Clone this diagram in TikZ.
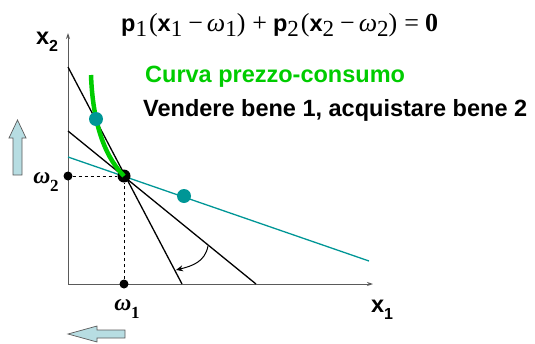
\documentclass[tikz,border=0pt]{standalone}
\usepackage{fontspec}
\setmainfont{Liberation Sans}
\newfontfamily\serifrm{Liberation Serif}
\usetikzlibrary{arrows.meta}
\definecolor{tealc}{RGB}{0,150,150}
\definecolor{greenc}{RGB}{0,204,0}
\definecolor{lightb}{RGB}{183,221,226}
\definecolor{axisc}{RGB}{90,90,90}
\newcommand\ssub[1]{\raisebox{-0.3em}{\fontsize{16}{16}\selectfont\bfseries #1}}
\newcommand\wsub[1]{\raisebox{-0.3em}{\fontsize{17}{17}\selectfont\serifrm\bfseries #1}}
\newcommand\rsub[1]{\raisebox{-0.22em}{\fontsize{23}{26}\selectfont\serifrm\mdseries #1}}
\newcommand\omg{{\serifrm\bfseries\itshape ω}}
\newcommand\eqs[1]{{\fontsize{26}{26}\selectfont\serifrm\mdseries #1}}
\begin{document}
\begin{tikzpicture}[x=1pt,y=-1pt,
  axis/.style={axisc,line width=0.9pt,-{Stealth[length=6pt,width=4pt]}},
  budget/.style={black,line width=1.3pt},
  dashln/.style={black,line width=0.8pt,dashed},
  dot/.style={circle,fill=black,inner sep=0pt,minimum size=9pt},
  bigdot/.style={circle,fill=black,inner sep=0pt,minimum size=13pt},
  tdot/.style={circle,fill=tealc,inner sep=0pt,minimum size=14pt},
  lbl/.style={font=\fontsize{23.5}{26}\selectfont\bfseries,inner sep=0pt},
  eqlbl/.style={font=\fontsize{23.5}{26}\selectfont\bfseries,inner sep=0pt},
  blockarrow/.style={fill=lightb,draw=axisc,line width=0.7pt}]
\useasboundingbox (0,0) rectangle (535,343);
% coordinates
\coordinate (O) at (68,284);
\coordinate (ytop) at (68,33);
\coordinate (xend) at (373,284);
\coordinate (A1) at (68,67);
\coordinate (B1) at (182,284);
\coordinate (A2) at (68,131);
\coordinate (B2) at (256,284);
\coordinate (T1) at (68,157);
\coordinate (T2) at (369,261);
\coordinate (G0) at (91,75);
\coordinate (R0) at (208,246);
\coordinate (R1) at (176,270);
% axes
\draw[axis] (O) -- (ytop);
\draw[axis] (O) -- (xend);
% budget lines
\draw[budget] (A1) -- (B1);
\draw[budget] (A2) -- (B2);
\draw[tealc,line width=1.3pt] (T1) -- (T2);
% endowment
\node[bigdot] (E) at (124,176) {};
\node[dot] (w2) at (68,176) {};
\node[dot] (w1) at (124,284) {};
\draw[dashln] (w2) -- (E);
\draw[dashln] (w1) -- (E);
% price-consumption curve
\draw[greenc,line width=4.5pt] (G0) .. controls (93,130) and (108,160) .. (E.center);
% teal dots
\node[tdot] (D1) at (96,119) {};
\node[tdot] (D2) at (184,196) {};
% rotation arrow
\draw[black,line width=1pt,-{Stealth[length=7pt,width=6pt]}] (R0) .. controls (205,262) and (192,266) .. (R1);
% block arrows
\draw[blockarrow] (13,175) -- (13,138) -- (9,138) -- (17.5,120) -- (26,138) -- (22,138) -- (22,175) -- cycle;
\draw[blockarrow] (125,330) -- (97,330) -- (97,326) -- (68,334) -- (97,342) -- (97,338) -- (125,338) -- cycle;
% labels
\node[lbl] (lx2) at (47,42) {x\ssub{2}};
\node[lbl] (lx1) at (382,310) {x\ssub{1}};
\node[lbl] (lw2) at (46,182) {\omg\wsub{2}};
\node[lbl] (lw1) at (127,309) {\omg\wsub{1}};
\node[eqlbl,anchor=west] (eq) at (121,25) {p\rsub{1}\hspace{2pt}\eqs{(}x\rsub{1}\hspace{6pt}\eqs{−}\hspace{4pt}\eqs{\itshape ω}\rsub{1}\eqs{)}\hspace{7pt}\eqs{+}\hspace{6pt}p\rsub{2}\hspace{2pt}\eqs{(}x\rsub{2}\hspace{6pt}\eqs{−}\hspace{4pt}\eqs{\itshape ω}\rsub{2}\eqs{)}\hspace{7pt}\eqs{=}\hspace{6pt}\eqs{\bfseries 0}};
\node[lbl,anchor=west,text=greenc] (tcurve) at (145,77) {Curva prezzo-consumo};
\node[lbl,anchor=west] (tsell) at (143,110) {Vendere bene 1, acquistare bene 2};
\end{tikzpicture}
\end{document}
